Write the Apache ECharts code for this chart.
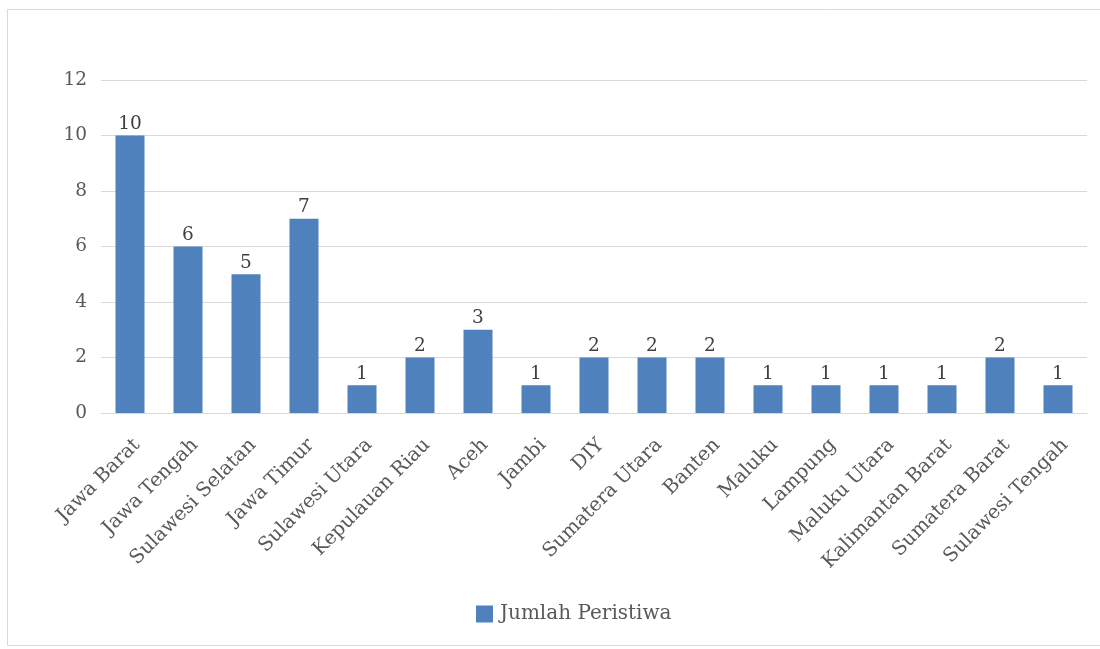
<!DOCTYPE html>
<html><head><meta charset="utf-8">
<script src="https://cdn.jsdelivr.net/npm/echarts@6/dist/echarts.min.js"></script>
<style>html,body{margin:0;padding:0;background:#fff}#c{width:1100px;height:649px}</style>
</head><body><div id="c"></div>
<script>
const categories = ["Jawa Barat","Jawa Tengah","Sulawesi Selatan","Jawa Timur","Sulawesi Utara","Kepulauan Riau","Aceh","Jambi","DIY","Sumatera Utara","Banten","Maluku","Lampung","Maluku Utara","Kalimantan Barat","Sumatera Barat","Sulawesi Tengah"];
const values = [10,6,5,7,1,2,3,1,2,2,2,1,1,1,1,2,1];
const seriesName = "Jumlah Peristiwa";
const FONT = "'DejaVu Serif', serif";
const chart = echarts.init(document.getElementById('c'), null, {renderer:'canvas'});
chart.setOption({
  animation:false,
  backgroundColor:'#fff',
  graphic:[{type:'rect',shape:{x:7.5,y:9.5,width:1200,height:636},style:{fill:'none',stroke:'#d9d9d9',lineWidth:1},silent:true}],
  grid:{left:101,right:13,top:80,bottom:236,containLabel:false},
  legend:{top:604,left:476,itemWidth:17,itemHeight:17,itemGap:6,icon:'rect',padding:0,
    textStyle:{fontFamily:FONT,fontSize:20,color:'#595959',padding:[0,0,0,2]},data:[seriesName]},
  xAxis:{type:'category',data:categories,
    axisLine:{lineStyle:{color:'#d9d9d9'}},axisTick:{show:false},
    axisLabel:{rotate:45,interval:0,fontFamily:FONT,fontSize:19.5,color:'#595959',margin:22,verticalAlign:'top'}},
  yAxis:{type:'value',min:0,max:12,interval:2,
    axisLine:{show:false},axisTick:{show:false},
    splitLine:{lineStyle:{color:'#d9d9d9'}},
    axisLabel:{fontFamily:FONT,fontSize:18.5,color:'#595959',margin:14}},
  series:[{name:seriesName,type:'bar',data:values,barWidth:'50%',
    itemStyle:{color:'#4F81BD'},
    label:{show:true,position:'top',distance:2,fontFamily:FONT,fontSize:18.5,color:'#404040'}}]
});
</script></body></html>
